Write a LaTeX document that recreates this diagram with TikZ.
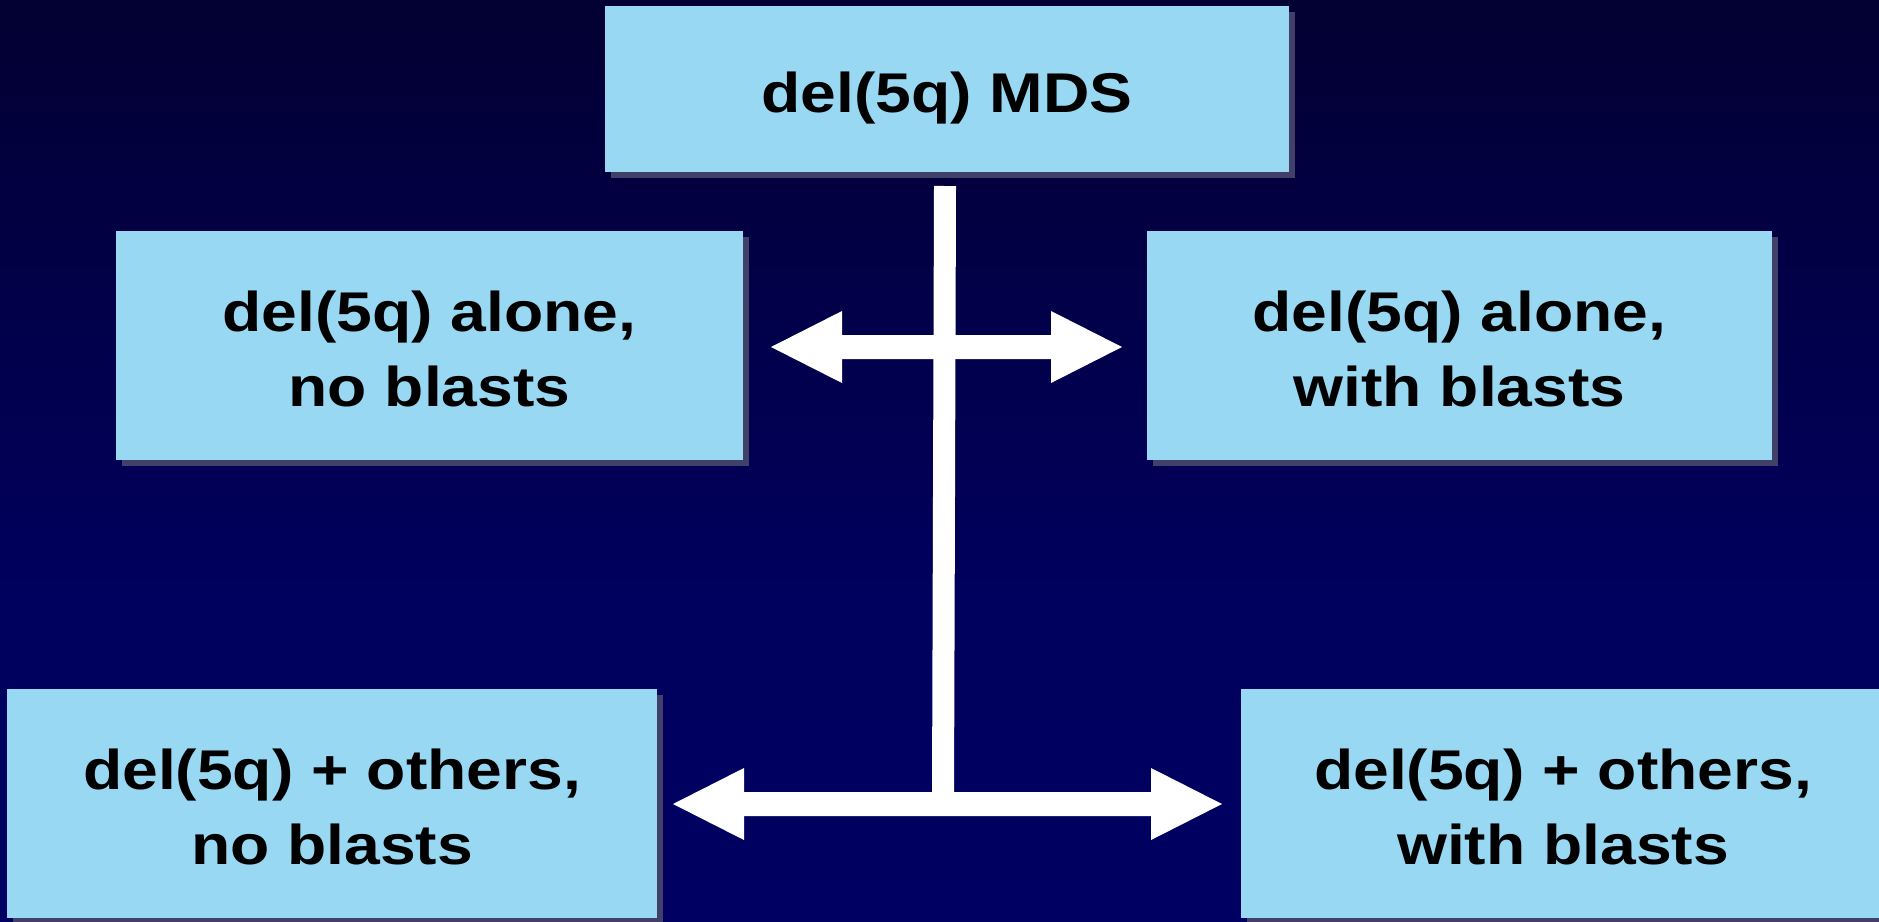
\documentclass[tikz,border=0pt]{standalone}
\usepackage{fontspec}
\newfontfamily\boxfont[FakeStretch=1.147]{Liberation Sans}
\usetikzlibrary{calc,shadows}
\definecolor{boxblue}{RGB}{153,216,242}
\definecolor{shadowc}{RGB}{64,64,104}
\definecolor{bgtop}{RGB}{3,0,50}
\definecolor{bgmid}{RGB}{0,0,94}
\definecolor{bgbot}{RGB}{0,0,98}
\newcommand{\tallstrut}{\rule{0pt}{47pt}}
\tikzset{
  box/.style={fill=boxblue, draw=none, inner sep=0pt, outer sep=0pt,
    minimum height=229pt, align=center, text=black,
    font=\boxfont\bfseries\fontsize{56pt}{75pt}\selectfont,
    drop shadow={shadow xshift=6pt, shadow yshift=-6pt, fill=shadowc, opacity=1}},
  bar/.style={draw=white, line width=22pt},
  fatarrow/.style={fill=white, draw=none,
    to path={let \p1=(\tikztostart), \p2=(\tikztotarget) in
      -- (\x1+71pt,\y1+36pt) -- (\x1+71pt,\y1+12pt) -- (\x2-71pt,\y2+12pt)
      -- (\x2-71pt,\y2+36pt) -- (\x2,\y2) -- (\x2-71pt,\y2-36pt)
      -- (\x2-71pt,\y2-12pt) -- (\x1+71pt,\y1-12pt) -- (\x1+71pt,\y1-36pt) -- cycle}}
}
\begin{document}
\begin{tikzpicture}[x=1pt,y=-1pt]
\useasboundingbox (0,0) rectangle (1879,921);
% background
\shade[top color=bgtop, bottom color=bgmid] (0,0) rectangle (1879,601);
\shade[top color=bgmid, bottom color=bgbot] (0,600) rectangle (1879,921);
% boxes
\node[box, minimum width=684pt, minimum height=166pt, text height=46pt, text depth=0pt] (T) at (947,89) {del(5q) MDS};
\node[box, minimum width=627pt] (ML) at (429.5,345.5) {\tallstrut del(5q) alone,\\no blasts};
\node[box, minimum width=625pt] (MR) at (1459.5,345.5) {\tallstrut del(5q) alone,\\with blasts};
\node[box, minimum width=650pt] (BL) at (332,803.5) {\tallstrut del(5q) + others,\\no blasts};
\node[box, minimum width=644pt] (BR) at (1563,803.5) {\tallstrut del(5q) + others,\\with blasts};
% connector end points
\coordinate (bartop) at ($(T.south)+(-2,14)$);
\coordinate (ua) at ($(ML.east)+(28,1.5)$);
\coordinate (ub) at ($(MR.west)+(-25,1.5)$);
\coordinate (la) at ($(BL.east)+(16,0.5)$);
\coordinate (lb) at ($(BR.west)+(-19,0.5)$);
\coordinate (barbot) at ($(bartop)+(-2,614)$);
% connectors
\draw[bar] (bartop) -- (barbot);
\path[fatarrow] (ua) to (ub);
\path[fatarrow] (la) to (lb);
\end{tikzpicture}
\end{document}
